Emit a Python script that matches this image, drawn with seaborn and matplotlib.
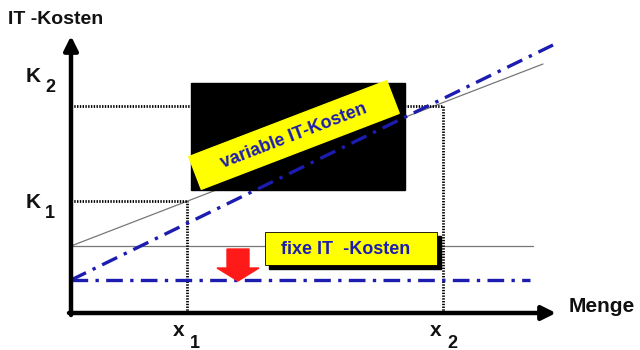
import matplotlib
matplotlib.use("Agg")
import matplotlib.pyplot as plt
import seaborn as sns
import numpy as np
from matplotlib.patches import Rectangle, FancyArrow, Polygon

sns.set_theme(style="white")
plt.rcParams['font.family'] = ['Liberation Sans', 'DejaVu Sans']

# Chart data (in drawing units; y grows downward like the picture)
origin = (71, 313)
x_axis_end = 556
y_axis_end = 36
x_marks = [187, 443]           # x1, x2
k_levels = [201, 106]          # K1, K2
total_x = [71, 543]
total_y = [246, 64]
var_x = [71, 553]
var_y = [280, 45]
fixblue_x = [71, 530]
fixblue_y = [280, 280]
fixgray_x = [71, 533]
fixgray_y = [246, 246]

blue = "#1c1cb0"
fig = plt.figure(figsize=(6.4, 3.5), dpi=100)
ax = fig.add_axes([0, 0, 1, 1])
ax.set_xlim(0, 640)
ax.set_ylim(350, 0)
ax.axis("off")

# thin gray lines
sns.lineplot(x=fixgray_x, y=fixgray_y, ax=ax, color="#777777", lw=0.9)
sns.lineplot(x=total_x, y=total_y, ax=ax, color="#777777", lw=0.9)

# dotted guides
for xm, kl in zip(x_marks, k_levels):
    ax.plot([origin[0], xm], [kl, kl], color="black", lw=2.0, ls=(0, (0.5, 0.5)))
    ax.plot([xm, xm], [origin[1], kl], color="black", lw=2.0, ls=(0, (0.5, 0.5)))

# black box
ax.add_patch(Rectangle((191, 83), 214, 107, color="black", zorder=3))

# blue dash-dot lines
dd = (0, (5, 2.2, 1, 2.2))
sns.lineplot(x=var_x, y=var_y, ax=ax, color=blue, lw=2.4, zorder=5)
ax.lines[-1].set_linestyle(dd)
sns.lineplot(x=fixblue_x, y=fixblue_y, ax=ax, color=blue, lw=2.4, zorder=5)
ax.lines[-1].set_linestyle(dd)

# axes with arrows
ax.annotate("", xy=(origin[0], y_axis_end), xytext=(origin[0], origin[1] + 2),
            arrowprops=dict(arrowstyle="-|>,head_length=0.7,head_width=0.35", lw=3.2, color="black", shrinkA=0, shrinkB=0), zorder=6)
ax.annotate("", xy=(x_axis_end, origin[1]), xytext=(origin[0] - 2, origin[1]),
            arrowprops=dict(arrowstyle="-|>,head_length=0.7,head_width=0.35", lw=3.2, color="black", shrinkA=0, shrinkB=0), zorder=6)

# yellow rotated label
cx, cy, w, h, ang = 294, 135, 212, 35, np.deg2rad(21)
u = np.array([np.cos(ang), -np.sin(ang)])
v = np.array([np.sin(ang), np.cos(ang)])
c = np.array([cx, cy])
corners = [c - u * w / 2 - v * h / 2, c + u * w / 2 - v * h / 2,
           c + u * w / 2 + v * h / 2, c - u * w / 2 + v * h / 2]
ax.add_patch(Polygon(corners, closed=True, fc="#ffff00", ec="#ffff00", zorder=7))
ax.text(cx, cy + 1, "variable IT-Kosten", rotation=21, rotation_mode="anchor",
        ha="center", va="center", fontsize=13, fontweight="bold", color=blue, zorder=8)

# fixe IT-Kosten box with shadow
ax.add_patch(Rectangle((269, 236), 172, 33, color="black", zorder=6))
ax.add_patch(Rectangle((265, 232), 172, 33, fc="#ffff00", ec="black", lw=0.6, zorder=7))
ax.text(346, 249, "fixe IT  -Kosten", ha="center", va="center", fontsize=13,
        fontweight="bold", color=blue, zorder=8)

# red arrow
ax.add_patch(FancyArrow(238, 249, 0, 32, width=22, head_width=42, head_length=13,
                        length_includes_head=True, fc="#ff1a1a", ec="#ff1a1a", zorder=8))

# texts
tk = dict(fontweight="bold", color="#111111")
ax.text(8, 19, "IT -Kosten", fontsize=14, va="center", ha="left", **tk)
ax.text(26, 76, "K", fontsize=15, va="center", **tk)
ax.text(45, 88, "2", fontsize=13, va="center", **tk)
ax.text(26, 202, "K", fontsize=15, va="center", **tk)
ax.text(45, 214, "1", fontsize=13, va="center", **tk)
ax.text(173, 330, "x", fontsize=15, va="center", **tk)
ax.text(190, 343, "1", fontsize=13, va="center", **tk)
ax.text(430, 330, "x", fontsize=15, va="center", **tk)
ax.text(447, 343, "2", fontsize=13, va="center", **tk)
ax.text(569, 306, "Menge", fontsize=15, va="center", **tk)

fig.savefig("out.png", dpi=100)
